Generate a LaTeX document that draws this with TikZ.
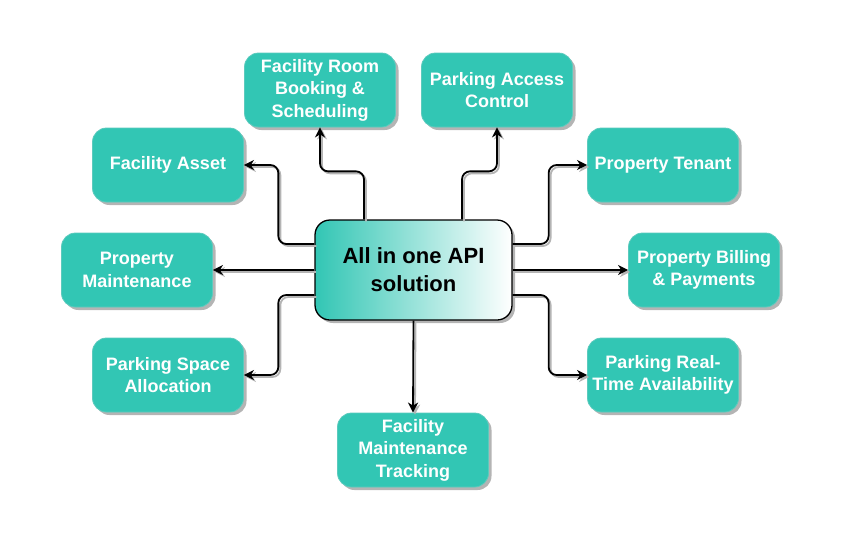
\documentclass[tikz,border=0pt]{standalone}
\usepackage{fontspec}
\setmainfont{Liberation Sans}
\usetikzlibrary{arrows.meta,shadows,calc}
\definecolor{tealbox}{HTML}{32C6B4}
\definecolor{tealedge}{HTML}{5CCABD}
\definecolor{shadowgray}{HTML}{B4B4B4}
\tikzset{
  leaf/.style={rectangle, rounded corners=14pt, fill=tealbox, draw=tealedge, line width=0.8pt,
    minimum width=151pt, minimum height=74pt, inner sep=2pt, align=center, text=white,
    font=\bfseries\fontsize{18}{22.5}\selectfont,
    drop shadow={shadow xshift=3pt, shadow yshift=-3pt, fill=shadowgray, opacity=1}},
  hub/.style={rectangle, rounded corners=15pt, left color=tealbox, right color=white, draw=black,
    line width=1.3pt, minimum width=197pt, minimum height=100pt, align=center, text=black,
    font=\bfseries\fontsize{22}{28}\selectfont,
    drop shadow={shadow xshift=3pt, shadow yshift=-3pt, fill=shadowgray, opacity=1}},
  conn/.style={draw=black, line width=1.8pt, rounded corners=8pt,
    -{Stealth[length=10pt,width=10pt,inset=3pt]},
    preaction={draw=shadowgray, line width=1.8pt, transform canvas={xshift=2pt,yshift=-2pt}}}
}
\begin{document}
\begin{tikzpicture}[x=1pt,y=-1pt]
\useasboundingbox (0,0) rectangle (853,549);
\node[hub] (center) at (413.5,270) {All in one API\\solution};
\node[leaf] (room) at (320,90) {Facility Room\\Booking \&\\Scheduling};
\node[leaf] (access) at (497,90) {Parking Access\\Control};
\node[leaf] (asset) at (168,165) {Facility Asset};
\node[leaf] (tenant) at (663,165) {Property Tenant};
\node[leaf] (pmaint) at (137,270) {Property\\Maintenance};
\node[leaf] (billing) at (704,270) {Property Billing\\\& Payments};
\node[leaf] (space) at (168,375) {Parking Space\\Allocation};
\node[leaf] (realtime) at (663,375) {Parking Real-\\Time Availability};
\node[leaf] (fmt) at (413,450) {Facility\\Maintenance\\Tracking};

\draw[conn] ([xshift=-49.5pt]center.north) -- ([xshift=-49.5pt,yshift=48pt]center.north) -| (room.south);
\draw[conn] ([xshift=48.5pt]center.north) -- ([xshift=48.5pt,yshift=48pt]center.north) -| (access.south);
\draw[conn] ([yshift=26pt]center.west) -- ([xshift=-36pt,yshift=26pt]center.west) |- (asset.east);
\draw[conn] ([yshift=26pt]center.east) -- ([xshift=36pt,yshift=26pt]center.east) |- (tenant.west);
\draw[conn] ([yshift=-25pt]center.west) -- ([xshift=-36pt,yshift=-25pt]center.west) |- (space.east);
\draw[conn] ([yshift=-25pt]center.east) -- ([xshift=36pt,yshift=-25pt]center.east) |- (realtime.west);
\draw[conn] (center.west) -- (pmaint.east);
\draw[conn] (center.east) -- (billing.west);
\draw[conn] (center.south) -- (fmt.north);
\end{tikzpicture}
\end{document}
